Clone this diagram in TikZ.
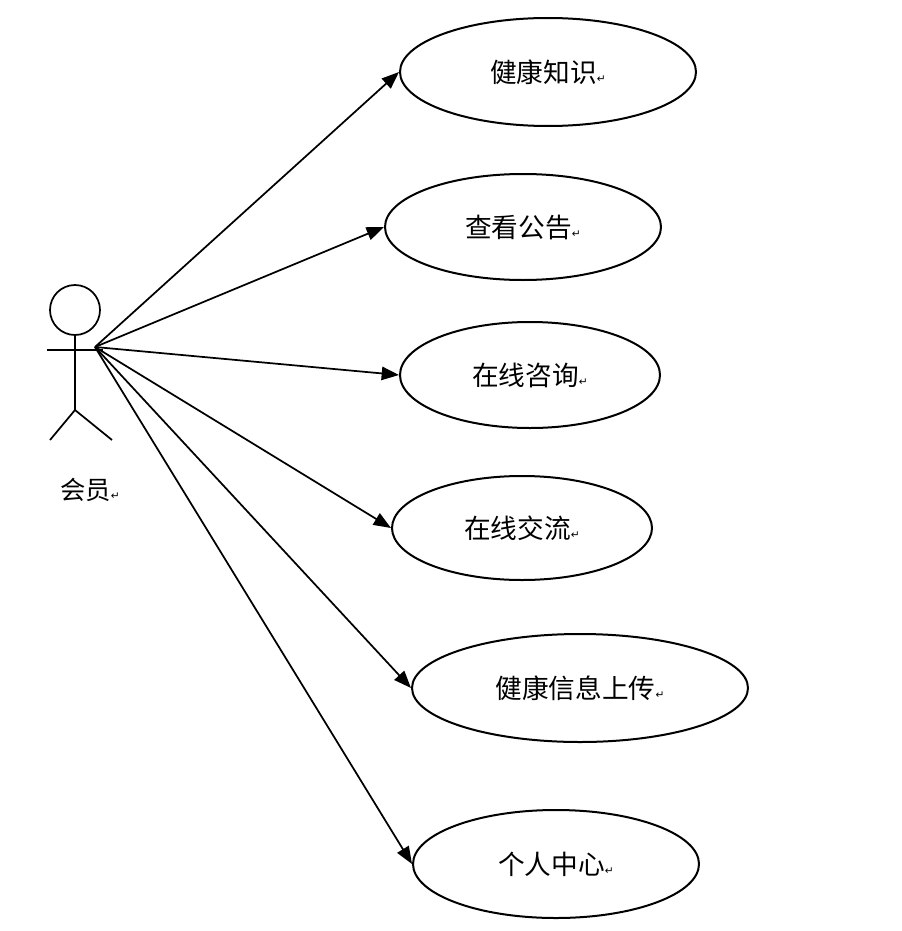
\documentclass[tikz,border=0pt]{standalone}
\usepackage{fontspec}
\setmainfont{Noto Sans CJK SC}
\newfontfamily\symf{DejaVu Sans}
\usetikzlibrary{shapes.geometric,arrows.meta}
\tikzset{
 uc/.style={ellipse,draw,line width=1.5pt,inner sep=0pt,font=\fontsize{20}{22}\selectfont},
 assoc/.style={line width=1.3pt,-{Triangle[length=13pt,width=10pt]}},
 stick/.style={line width=1.3pt}
}
\newcommand{\rt}{{\symf\fontsize{8}{8}\selectfont ↵}}
\begin{document}
\begin{tikzpicture}[x=0.75pt,y=-0.75pt]
\useasboundingbox (0,0) rectangle (902,931);
\node[uc,minimum width=296*0.75pt,minimum height=108*0.75pt] (u1) at (548,72) {健康知识\rt};
\node[uc,minimum width=276*0.75pt,minimum height=106*0.75pt] (u2) at (523,227) {查看公告\rt};
\node[uc,minimum width=260*0.75pt,minimum height=106*0.75pt] (u3) at (530,375) {在线咨询\rt};
\node[uc,minimum width=260*0.75pt,minimum height=104*0.75pt] (u4) at (522,528) {在线交流\rt};
\node[uc,minimum width=336*0.75pt,minimum height=108*0.75pt] (u5) at (580,688) {健康信息上传\rt};
\node[uc,minimum width=286*0.75pt,minimum height=108*0.75pt] (u6) at (556,864) {个人中心\rt};
% actor
\node[circle,draw,stick,minimum size=50*0.75pt,inner sep=0pt] (head) at (75,310) {};
\coordinate (hip) at (75,410);
\coordinate (la) at (47,350);
\coordinate (ra) at (103,350);
\coordinate (ll) at (50,440);
\coordinate (rl) at (112,440);
\coordinate (hand) at (95,347);
\draw[stick] (head.south) -- (hip);
\draw[stick] (la) -- (ra);
\draw[stick] (ll) -- (hip) -- (rl);
\node[font=\fontsize{19}{21}\selectfont] (actor) at (90,490) {会员\rt};
\foreach \u in {u1,u2,u3,u4,u5,u6} \draw[assoc] (hand) -- (\u.west);
\end{tikzpicture}
\end{document}
